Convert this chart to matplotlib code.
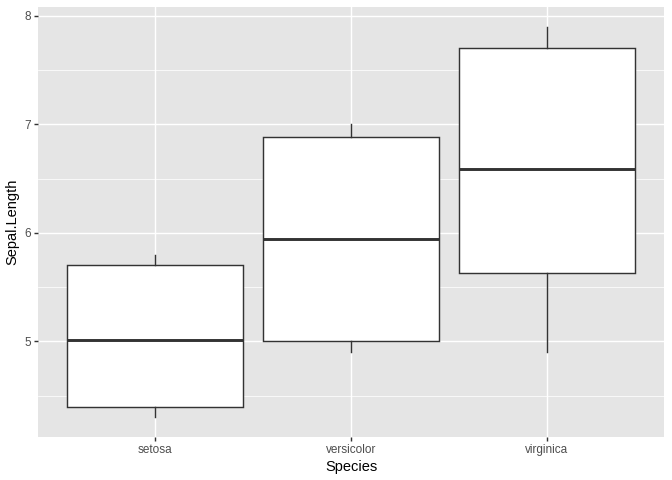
import matplotlib
matplotlib.use("Agg")
import matplotlib.pyplot as plt

species = ["setosa", "versicolor", "virginica"]
whisker_low = [4.3, 4.9, 4.9]
q1 = [4.4, 5.0, 5.63]
median = [5.01, 5.94, 6.59]
q3 = [5.7, 6.88, 7.7]
whisker_high = [5.8, 7.0, 7.9]

plt.rcParams['font.family'] = ['Liberation Sans', 'DejaVu Sans']

fig = plt.figure(figsize=(7, 5), dpi=96)
ax = fig.add_axes([38 / 672, 43 / 480, (664 - 38) / 672, (437 - 7) / 480])
ax.set_facecolor("#EBEBEB")
ax.set_facecolor("#E5E5E5")

# minor and major grid in ggplot style
for y in [4.5, 5.5, 6.5, 7.5]:
    ax.axhline(y, color="white", lw=0.55, zorder=0)
for y in [5, 6, 7, 8]:
    ax.axhline(y, color="white", lw=1.07, zorder=0)
for x in range(1, 4):
    ax.axvline(x, color="white", lw=1.07, zorder=0)

stats = []
for i, name in enumerate(species):
    stats.append({"label": name, "whislo": whisker_low[i], "q1": q1[i],
                  "med": median[i], "q3": q3[i], "whishi": whisker_high[i],
                  "fliers": []})

ax.bxp(stats, positions=[1, 2, 3], widths=0.9, showcaps=False, patch_artist=True,
       boxprops=dict(facecolor="white", edgecolor="#333333", linewidth=1.07),
       whiskerprops=dict(color="#333333", linewidth=1.07),
       medianprops=dict(color="#333333", linewidth=2.2, solid_capstyle="butt"),
       zorder=2)

ax.set_xlim(0.4, 3.6)
ax.set_ylim(4.12, 8.08)
ax.set_yticks([5, 6, 7, 8])
ax.set_yticklabels(["5", "6", "7", "8"])
ax.set_xticks([1, 2, 3])
ax.set_xticklabels(species)
ax.tick_params(axis="both", length=2.75, width=1.07, color="#333333",
               labelcolor="#4D4D4D", labelsize=8.8, pad=2.2)
for s in ax.spines.values():
    s.set_visible(False)

ax.set_xlabel("Species", fontsize=11, labelpad=3)
ax.set_ylabel("Sepal.Length", fontsize=11, labelpad=4)

fig.savefig("out.png", dpi=96)
